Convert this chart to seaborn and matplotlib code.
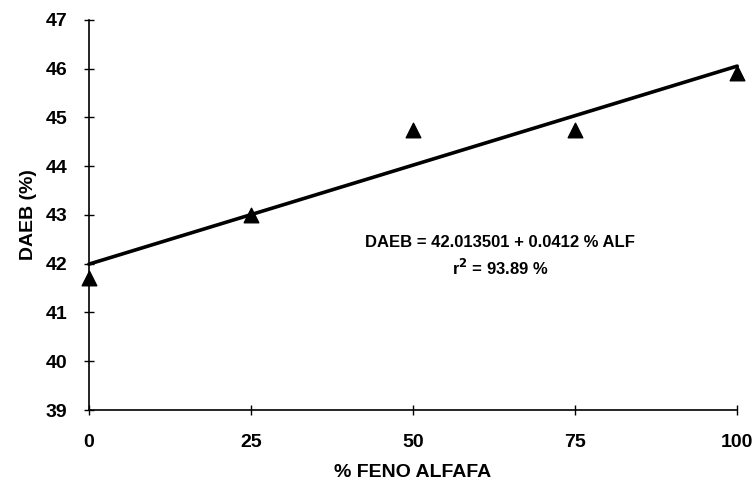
import numpy as np
import pandas as pd
import matplotlib
matplotlib.use("Agg")
import matplotlib.pyplot as plt
import seaborn as sns

# % alfalfa hay in diet vs. apparent digestibility (DAEB, %)
alfalfa = [0, 25, 50, 75, 100]
daeb = [41.7, 43.0, 44.75, 44.75, 45.9]
x_ticks = [0, 25, 50, 75, 100]
y_ticks = [39, 40, 41, 42, 43, 44, 45, 46, 47]

sns.set_theme(style="white")
plt.rcParams["font.family"] = ["Liberation Sans", "DejaVu Sans"]
plt.rcParams["font.weight"] = "bold"
plt.rcParams["text.color"] = "black"
plt.rcParams["axes.labelcolor"] = "black"

df = pd.DataFrame({"alf": alfalfa, "daeb": daeb})

fig = plt.figure(figsize=(7.53, 4.94), dpi=100)
ax = fig.add_axes([0.118, 0.170, 0.861, 0.790])

sns.regplot(data=df, x="alf", y="daeb", ax=ax, ci=None, truncate=True,
            marker="^", color="black",
            scatter_kws={"s": 110, "zorder": 3, "facecolor": "black",
                         "edgecolor": "black", "alpha": 1},
            line_kws={"lw": 2.6, "zorder": 2})

ax.set_xlim(0, 100)
ax.set_ylim(39, 47)
ax.set_xticks(x_ticks)
ax.set_yticks(y_ticks)
ax.tick_params(direction="inout", length=7, width=1, colors="black",
               labelsize=14, left=True, bottom=True)
ax.yaxis.set_tick_params(pad=12)
ax.xaxis.set_tick_params(pad=14)
for lbl in ax.get_xticklabels() + ax.get_yticklabels():
    lbl.set_fontweight("bold")

for side in ["top", "right"]:
    ax.spines[side].set_visible(False)
for side in ["left", "bottom"]:
    ax.spines[side].set_color("black")
    ax.spines[side].set_linewidth(1.2)

ax.set_xlabel("% FENO ALFAFA", fontsize=14, fontweight="bold", labelpad=9)
ax.set_ylabel("DAEB (%)", fontsize=14, fontweight="bold", labelpad=6)

ax.text(63.4, 42.43, "DAEB = 42.013501 + 0.0412 % ALF", ha="center", va="center",
        fontsize=12, fontweight="bold")
ax.text(63.4, 41.92, "r$^2$ = 93.89 %", ha="center", va="center",
        fontsize=12, fontweight="bold")
for c in ax.collections + ax.lines:
    c.set_clip_on(False)

fig.savefig("out.png", dpi=100)
plt.close()
